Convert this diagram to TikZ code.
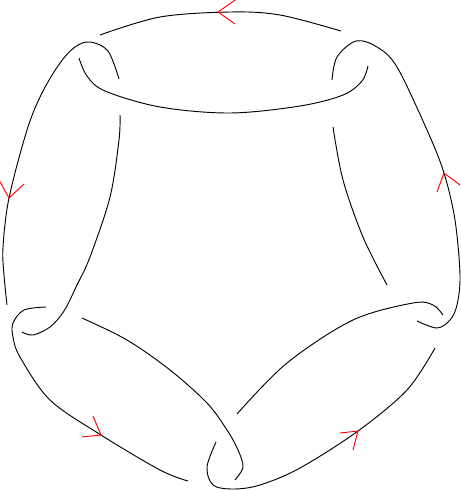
\documentclass[tikz,border=0pt]{standalone}
\usepackage{tikz}
\tikzset{strand/.style={line width=0.7pt, smooth, tension=0.55},
         dir/.style={red, line width=0.7pt}}

\begin{document}
\begin{tikzpicture}[x=0.75pt, y=-0.75pt]
        \useasboundingbox (0,0) rectangle (461,490);
        % top ring
        \draw [strand] plot coordinates {(100,35) (160,17) (230,12) (280,15) (341,31)};
        \draw [strand] plot coordinates {(79,58) (87,76) (105,91) (160,107) (230,113) (300,106) (343,95) (362,81) (368,66)};
        % left ring
        \draw [strand] plot coordinates {(7,305) (4,275) (3,247) (9,198) (27,130) (42,93) (60,63) (75,47) (90,42) (108,51) (119,79)};
        \draw [strand] plot coordinates {(120,115) (119,140) (110,197) (90,257) (77,285) (64,311) (50,327) (33,335) (22,332)};
        % bottom left ring
        \draw [strand] plot coordinates {(46,307) (24,310) (13,323) (13,337) (20,357) (50,400) (101,435) (160,470) (188,481)};
        \draw [strand] plot coordinates {(82,318) (127,340) (170,370) (207,403) (227,430) (238,450) (243,467) (235,480)};
        % bottom right ring
        \draw [strand] plot coordinates {(216,442) (207,467) (213,485) (233,489) (260,485) (300,468) (358,431) (407,390) (435,348)};
        \draw [strand] plot coordinates {(237,414) (287,363) (353,320) (413,303) (433,305) (443,315)};
        % right ring
        \draw [strand] plot coordinates {(417,321) (437,328) (450,320) (457,305) (460,275) (455,220) (444,173) (427,130) (397,67) (377,47) (356,41) (337,57) (332,80)};
        \draw [strand] plot coordinates {(333,127) (343,180) (363,237) (387,285)};
        % orientation marks
        \draw [dir] (238,-2) -- (218,12) -- (235,24);
        \draw [dir] (-1,180) -- (9,198) -- (24,184);
        \draw [dir] (437,192) -- (444,173) -- (460,185);
        \draw [dir] (340,433) -- (358,431) -- (353,450);
        \draw [dir] (82,437) -- (101,435) -- (93,416);
\end{tikzpicture}
\end{document}
